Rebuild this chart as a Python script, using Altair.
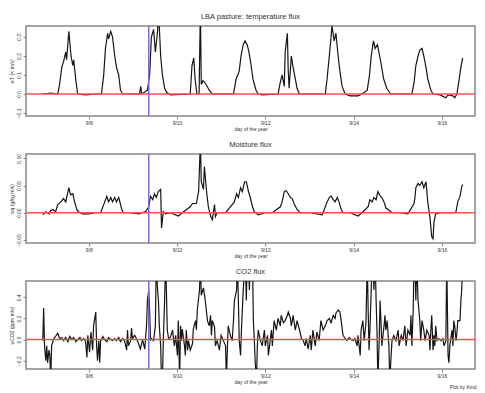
import altair as alt
import pandas as pd

# ---------------- data ----------------
x_ticks = [250, 252, 254, 256, 258]
x_labels = ["9/8", "9/10", "9/12", "9/14", "9/16"]
x_domain = [248.58, 258.75]
event_day = [251.36]

heat_day = [248.96, 249.14, 249.30, 249.34, 249.39, 249.43, 249.48, 249.50, 249.55, 249.60,
            249.64, 249.66, 249.71, 249.75, 249.93, 250.16, 250.29, 250.34, 250.38, 250.43,
            250.45, 250.50, 250.54, 250.59, 250.63, 250.68, 250.72, 250.77, 251.06, 251.15,
            251.18, 251.20, 251.33, 251.38, 251.42, 251.47, 251.51, 251.56, 251.58, 251.63,
            251.67, 251.72, 251.76, 251.85, 252.30, 252.34, 252.38, 252.41, 252.45, 252.50,
            252.53, 252.55, 252.59, 252.66, 252.73, 252.80, 252.98, 253.28, 253.34, 253.41,
            253.45, 253.50, 253.54, 253.59, 253.63, 253.68, 253.72, 253.79, 253.84, 253.93,
            254.29, 254.33, 254.38, 254.43, 254.45, 254.50, 254.52, 254.54, 254.59, 254.63,
            254.68, 254.72, 254.77, 255.02, 255.36, 255.40, 255.45, 255.49, 255.51, 255.56,
            255.60, 255.65, 255.69, 255.74, 255.81, 255.92, 256.10, 256.19, 256.31, 256.36,
            256.40, 256.45, 256.49, 256.54, 256.59, 256.63, 256.68, 256.75, 256.84, 257.05,
            257.32, 257.37, 257.41, 257.46, 257.50, 257.55, 257.59, 257.64, 257.68, 257.75,
            257.80, 257.96, 258.09, 258.14, 258.25, 258.29, 258.34, 258.38, 258.43, 258.47]
heat_val = [0.0, 0.005, 0.0, 0.05, 0.14, 0.17, 0.22, 0.18, 0.33, 0.20,
            0.15, 0.18, 0.07, 0.0, -0.005, 0.0, 0.0, 0.10, 0.24, 0.32,
            0.29, 0.33, 0.30, 0.20, 0.14, 0.10, 0.02, 0.0, 0.0, 0.0,
            0.04, 0.0, 0.02, 0.10, 0.30, 0.34, 0.22, 0.33, 0.45, 0.20,
            0.10, 0.03, 0.01, -0.005, 0.0, 0.15, 0.19, 0.08, 0.0, 0.0,
            0.45, 0.05, 0.07, 0.05, 0.02, 0.0, 0.0, 0.0, 0.08, 0.12,
            0.20, 0.26, 0.28, 0.26, 0.22, 0.15, 0.08, 0.02, 0.0, -0.005,
            0.0, 0.05, 0.10, 0.04, 0.22, 0.32, 0.12, 0.03, 0.20, 0.14,
            0.08, 0.03, 0.0, 0.0, 0.0, 0.08, 0.20, 0.30, 0.36, 0.28,
            0.32, 0.20, 0.12, 0.04, 0.0, -0.01, -0.01, 0.0, 0.02, 0.10,
            0.20, 0.28, 0.24, 0.26, 0.20, 0.15, 0.08, 0.03, 0.0, 0.0,
            0.0, 0.06, 0.15, 0.20, 0.23, 0.24, 0.20, 0.14, 0.08, 0.02,
            0.0, -0.005, -0.02, -0.005, -0.01, -0.02, 0.0, 0.06, 0.14, 0.19]

moist_day = [248.96, 249.03, 249.10, 249.14, 249.19, 249.25, 249.30, 249.37, 249.43, 249.48,
             249.53, 249.55, 249.59, 249.64, 249.68, 249.73, 249.77, 249.86, 250.00, 250.14,
             250.27, 250.34, 250.41, 250.45, 250.50, 250.54, 250.59, 250.63, 250.68, 250.75,
             250.79, 250.95, 251.13, 251.29, 251.36, 251.40, 251.45, 251.49, 251.53, 251.58,
             251.63, 251.65, 251.69, 251.74, 251.85, 252.03, 252.12, 252.30, 252.35, 252.44,
             252.49, 252.53, 252.55, 252.60, 252.62, 252.67, 252.71, 252.76, 252.80, 252.85,
             252.87, 252.91, 253.10, 253.30, 253.35, 253.39, 253.44, 253.48, 253.53, 253.57,
             253.62, 253.66, 253.71, 253.75, 253.84, 254.00, 254.16, 254.34, 254.38, 254.43,
             254.47, 254.52, 254.57, 254.61, 254.66, 254.72, 254.79, 255.02, 255.29, 255.36,
             255.40, 255.45, 255.49, 255.54, 255.58, 255.63, 255.67, 255.72, 255.76, 255.92,
             256.10, 256.19, 256.33, 256.37, 256.42, 256.46, 256.51, 256.55, 256.60, 256.64,
             256.69, 256.73, 256.78, 256.87, 257.05, 257.23, 257.37, 257.39, 257.41, 257.46,
             257.50, 257.55, 257.59, 257.64, 257.68, 257.73, 257.77, 257.80, 257.82, 257.86,
             257.96, 258.14, 258.29, 258.32, 258.36, 258.41, 258.45, 258.47]
moist_val = [-0.004, 0.002, -0.002, 0.004, 0.006, 0.002, 0.015, 0.020, 0.026, 0.020,
             0.039, 0.046, 0.033, 0.035, 0.020, 0.006, 0.002, -0.002, -0.002, 0.0,
             0.0, 0.015, 0.030, 0.020, 0.028, 0.020, 0.028, 0.020, 0.028, 0.006,
             0.0, 0.0, -0.002, 0.002, 0.011, 0.030, 0.024, 0.035, 0.028, 0.039,
             0.043, -0.028, 0.002, -0.002, 0.0, -0.006, 0.0, 0.011, 0.017, 0.017,
             0.039, 0.13, 0.057, 0.043, 0.085, 0.039, 0.011, -0.006, -0.013, 0.015,
             -0.007, 0.0, 0.0, 0.020, 0.035, 0.028, 0.046, 0.039, 0.057, 0.057,
             0.039, 0.028, 0.011, 0.002, -0.004, 0.0, 0.0, 0.011, 0.020, 0.039,
             0.041, 0.035, 0.028, 0.026, 0.015, 0.006, 0.0, 0.0, -0.004, 0.011,
             0.020, 0.028, 0.031, 0.024, 0.020, 0.028, 0.020, 0.006, 0.0, 0.0,
             -0.006, 0.0, 0.011, 0.024, 0.020, 0.028, 0.024, 0.039, 0.031, 0.028,
             0.020, 0.009, 0.006, 0.0, 0.0, -0.002, 0.017, 0.028, 0.046, 0.054,
             0.050, 0.057, 0.046, 0.057, 0.020, -0.009, -0.044, -0.048, -0.017, -0.002,
             0.0, 0.0, 0.0, 0.002, 0.020, 0.030, 0.048, 0.052]

co2_day = [248.96, 248.98, 249.00, 249.03, 249.05, 249.07, 249.10, 249.12, 249.14, 249.16,
           249.21, 249.25, 249.30, 249.34, 249.39, 249.43, 249.48, 249.53, 249.57, 249.62,
           249.66, 249.71, 249.75, 249.80, 249.84, 249.89, 249.93, 249.96, 249.98, 250.00,
           250.02, 250.05, 250.09, 250.11, 250.16, 250.18, 250.20, 250.23, 250.25, 250.27,
           250.32, 250.36, 250.41, 250.45, 250.50, 250.54, 250.59, 250.63, 250.68, 250.72,
           250.77, 250.81, 250.86, 250.88, 250.90, 250.95, 250.97, 250.99, 251.04, 251.08,
           251.13, 251.17, 251.22, 251.27, 251.31, 251.33, 251.36, 251.38, 251.40, 251.42,
           251.47, 251.51, 251.53, 251.56, 251.58, 251.60, 251.63, 251.65, 251.67, 251.69,
           251.72, 251.74, 251.76, 251.78, 251.81, 251.85, 251.90, 251.94, 251.97, 252.01,
           252.03, 252.06, 252.08, 252.10, 252.12, 252.17, 252.19, 252.21, 252.24, 252.26,
           252.30, 252.35, 252.37, 252.42, 252.44, 252.46, 252.51, 252.53, 252.55, 252.60,
           252.64, 252.69, 252.73, 252.76, 252.78, 252.80, 252.85, 252.87, 252.91, 252.96,
           253.00, 253.05, 253.10, 253.12, 253.14, 253.16, 253.21, 253.25, 253.28, 253.30,
           253.35, 253.37, 253.39, 253.41, 253.44, 253.46, 253.50, 253.55, 253.57, 253.59,
           253.62, 253.64, 253.66, 253.71, 253.73, 253.75, 253.77, 253.80, 253.82, 253.84,
           253.89, 253.93, 253.98, 254.00, 254.05, 254.07, 254.11, 254.14, 254.16, 254.20,
           254.25, 254.29, 254.34, 254.36, 254.41, 254.45, 254.50, 254.52, 254.57, 254.59,
           254.63, 254.68, 254.72, 254.77, 254.82, 254.86, 254.90, 254.93, 254.97, 255.02,
           255.04, 255.08, 255.13, 255.17, 255.22, 255.26, 255.31, 255.36, 255.40, 255.45,
           255.49, 255.54, 255.58, 255.60, 255.65, 255.69, 255.72, 255.76, 255.81, 255.85,
           255.90, 255.94, 255.99, 256.03, 256.08, 256.10, 256.15, 256.17, 256.21, 256.24,
           256.28, 256.31, 256.33, 256.35, 256.37, 256.40, 256.42, 256.44, 256.46, 256.49,
           256.51, 256.53, 256.55, 256.58, 256.60, 256.62, 256.64, 256.69, 256.71, 256.73,
           256.76, 256.80, 256.82, 256.85, 256.87, 256.91, 256.96, 257.01, 257.03, 257.08,
           257.12, 257.16, 257.19, 257.23, 257.28, 257.30, 257.32, 257.35, 257.37, 257.39,
           257.41, 257.43, 257.46, 257.50, 257.52, 257.55, 257.59, 257.62, 257.66, 257.71,
           257.73, 257.75, 257.77, 257.80, 257.82, 257.84, 257.86, 257.89, 257.93, 257.98,
           258.02, 258.05, 258.09, 258.11, 258.14, 258.16, 258.18, 258.23, 258.25, 258.27,
           258.29, 258.32, 258.34, 258.36, 258.41, 258.43, 258.45, 258.47]
co2_val = [-0.01, 0.30, -0.06, -0.20, -0.06, -0.22, -0.10, -0.15, -0.40, -0.06,
           0.01, 0.03, 0.06, 0.01, 0.02, -0.01, 0.02, -0.02, 0.03, 0.0,
           0.02, -0.02, 0.0, 0.02, -0.01, 0.01, -0.02, -0.17, 0.04, -0.04,
           -0.12, 0.07, -0.10, 0.13, 0.26, -0.06, -0.20, -0.01, -0.22, -0.01,
           0.03, 0.0, -0.02, 0.02, 0.0, -0.01, 0.01, -0.01, 0.02, -0.02,
           0.01, -0.01, -0.10, 0.09, -0.06, -0.01, 0.11, 0.01, 0.04, 0.01,
           -0.04, -0.09, 0.0, -0.09, 0.13, 0.37, 0.47, 0.28, -0.01, 0.01,
           -0.01, 0.13, 0.75, 0.47, 0.37, 0.13, -0.06, -0.40, -0.40, -0.01,
           0.37, 0.75, 0.47, 0.09, 0.01, 0.02, 0.09, -0.06, 0.04, -0.15,
           0.18, -0.40, 0.13, -0.01, 0.10, -0.06, -0.15, 0.09, -0.10, -0.01,
           -0.10, -0.04, 0.10, 0.18, 0.09, 0.28, 0.47, 0.75, 0.42, 0.49,
           0.37, 0.18, 0.13, 0.23, 0.04, 0.18, 0.12, -0.06, -0.01, -0.10,
           0.04, -0.01, -0.06, -0.40, -0.10, 0.13, 0.04, -0.01, 0.18, 0.37,
           0.47, 0.75, 0.37, -0.01, -0.15, 0.09, 0.47, 0.75, 0.37, 0.75,
           0.75, 0.47, 0.75, 0.75, 0.18, 0.01, -0.20, -0.40, -0.06, 0.09,
           -0.01, -0.06, 0.09, -0.06, 0.04, -0.15, -0.01, 0.09, -0.06, 0.18,
           0.09, 0.20, 0.13, 0.23, 0.16, 0.18, 0.23, 0.26, 0.20, 0.13,
           0.23, 0.09, 0.18, 0.10, 0.01, -0.01, -0.06, 0.01, -0.09, 0.04,
           -0.10, 0.09, -0.06, 0.07, -0.01, 0.18, 0.09, 0.13, 0.18, 0.20,
           0.16, 0.23, 0.20, 0.25, 0.28, 0.26, 0.18, 0.04, 0.01, -0.01,
           0.02, 0.0, -0.01, 0.01, -0.06, 0.04, -0.15, 0.09, 0.18, -0.01,
           0.16, 0.75, 0.28, -0.10, 0.09, 0.47, 0.75, 0.75, 0.47, 0.75,
           0.37, 0.09, -0.40, -0.01, 0.37, 0.18, -0.06, 0.13, 0.23, 0.09,
           0.18, -0.06, -0.40, -0.15, -0.01, 0.04, -0.01, 0.09, -0.06, 0.04,
           -0.01, 0.13, -0.06, 0.09, 0.04, 0.23, -0.06, 0.28, 0.75, 0.75,
           0.37, 0.75, 0.37, 0.18, -0.01, 0.18, 0.09, -0.01, 0.09, 0.04,
           -0.10, 0.09, 0.23, -0.10, 0.04, -0.06, 0.13, -0.01, 0.01, -0.01,
           0.01, -0.06, -0.01, 0.75, -0.15, -0.22, -0.06, 0.09, -0.06, 0.18,
           0.13, -0.01, 0.06, 0.18, 0.18, 0.37, 0.47, 0.75]

panels = [
    dict(day=heat_day, val=heat_val, title="LBA pasture: temperature flux",
         ytitle="wT (K m/s)", ydomain=[-0.116, 0.358],
         yticks=[-0.1, 0.0, 0.1, 0.2, 0.3], fmt=".1f", height=90),
    dict(day=moist_day, val=moist_val, title="Moisture flux",
         ytitle="wq (g/kg m/s)", ydomain=[-0.0556, 0.108],
         yticks=[-0.05, 0.0, 0.05, 0.10], fmt=".2f", height=89),
    dict(day=co2_day, val=co2_val, title="CO2 flux",
         ytitle="wCO2 (ppm m/s)", ydomain=[-0.279, 0.555],
         yticks=[-0.2, 0.0, 0.2, 0.4], fmt=".1f", height=88),
]
footer = "Plot by Kind"

# ---------------- chart ----------------
label_expr = " : ".join(
    f"datum.value == {t} ? '{l}'" for t, l in zip(x_ticks, x_labels)
) + " : ''"

TXT = "#333333"


def make_panel(p):
    df = pd.DataFrame({"day": p["day"], "value": p["val"]})
    xenc = alt.X(
        "day:Q",
        scale=alt.Scale(domain=x_domain, nice=False, zero=False),
        axis=alt.Axis(values=x_ticks, labelExpr=label_expr, title="day of the year",
                      grid=False, domain=False, tickSize=3, tickColor="#888",
                      labelFontSize=5, titleFontSize=5, labelPadding=1, titlePadding=1,
                      labelColor=TXT, titleColor=TXT, titleFontWeight="normal"),
    )
    yenc = alt.Y(
        "value:Q",
        scale=alt.Scale(domain=p["ydomain"], nice=False, zero=False),
        axis=alt.Axis(values=p["yticks"], format=p["fmt"], title=p["ytitle"],
                      grid=False, domain=False, tickSize=3, tickColor="#888",
                      labelAngle=-90, labelFontSize=5, titleFontSize=5,
                      labelOverlap=False, labelFlush=False, labelBound=False,
                      labelAlign="center", labelBaseline="bottom",
                      labelPadding=2, titlePadding=2, labelColor=TXT, titleColor=TXT,
                      titleFontWeight="normal"),
    )
    line = alt.Chart(df).mark_line(clip=True, color="#151515", strokeWidth=1.2).encode(x=xenc, y=yenc)
    zero = alt.Chart(pd.DataFrame({"value": [0.0]})).mark_rule(
        color="#ff5050", strokeWidth=1.5).encode(y=yenc)
    ev = alt.Chart(pd.DataFrame({"day": event_day})).mark_rule(
        color="#6a6aff", strokeWidth=1.5).encode(x=xenc)
    return alt.layer(line, zero, ev).properties(
        width=449, height=p["height"],
        title=alt.TitleParams(p["title"], fontSize=7.5, fontWeight="normal",
                              color=TXT, offset=5),
    )


chart = alt.vconcat(*[make_panel(p) for p in panels], spacing=8).properties(
    padding={"left": 0, "top": 4, "right": 0, "bottom": 0},
    title=alt.TitleParams(footer, orient="bottom", anchor="end", fontSize=5,
                          fontWeight="normal", color=TXT, offset=0),
).configure(font="Liberation Sans").configure_view(stroke="#888", strokeWidth=1.5)

chart.save("out.html", embed_options={"renderer": "svg", "actions": False})
